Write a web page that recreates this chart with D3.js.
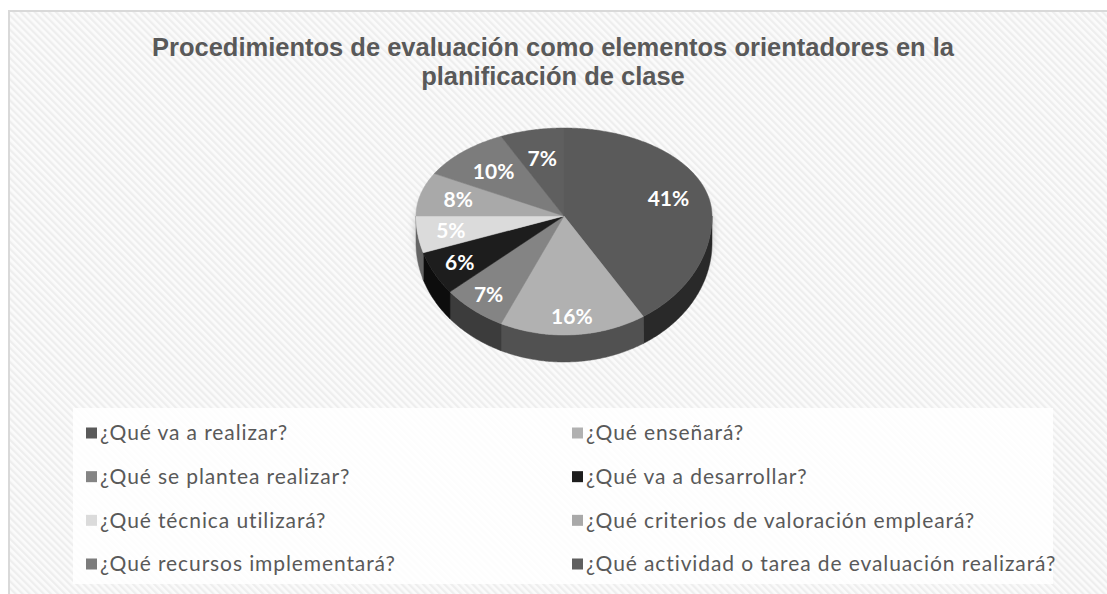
<!DOCTYPE html>
<html>
<head>
<meta charset="utf-8">
<script src="https://cdn.jsdelivr.net/npm/d3@7"></script>
<style>
  html, body { margin: 0; padding: 0; background: #fff; }
</style>
</head>
<body>
<div id="chart"></div>
<script>
var title = ["Procedimientos de evaluación como elementos orientadores en la", "planificación de clase"];
var categories = [
    "¿Qué va a realizar?", "¿Qué enseñará?",
    "¿Qué se plantea realizar?", "¿Qué va a desarrollar?",
    "¿Qué técnica utilizará?", "¿Qué criterios de valoración empleará?",
    "¿Qué recursos implementará?", "¿Qué actividad o tarea de evaluación realizará?"
];
var values = [41, 16, 7, 6, 5, 8, 10, 7];
var colors = ["#5a5a5a", "#b1b1b1", "#848484", "#1d1d1d", "#dbdbdb", "#a9a9a9", "#7c7c7c", "#5f5f5f"];

function init() {
    var w = 1107, h = 594;
    var cx = 564, cy = 216;     // apex of the pie
    var rx = 148, ryBack = 88, ryFront = 119, depth = 27;

    var svg = d3.select("#chart").append("svg")
        .attr("width", w).attr("height", h);

    var defs = svg.append("defs");
    var pat = defs.append("pattern")
        .attr("id", "hatch")
        .attr("width", 5).attr("height", 5)
        .attr("patternUnits", "userSpaceOnUse")
        .attr("patternTransform", "rotate(-45)");
    pat.append("rect").attr("width", 5).attr("height", 5).attr("fill", "#fbfbfb");
    pat.append("rect").attr("width", 2.3).attr("height", 5).attr("fill", "#eeeeee");

    defs.append("filter").attr("id", "blur")
        .attr("x", "-20%").attr("y", "-20%").attr("width", "140%").attr("height", "140%")
        .append("feGaussianBlur").attr("stdDeviation", 4);

    // chart area
    svg.append("rect")
        .attr("x", 9).attr("y", 11)
        .attr("width", w).attr("height", h)
        .attr("fill", "url(#hatch)")
        .attr("stroke", "#d9d9d9").attr("stroke-width", 2);

    // title
    svg.append("g").selectAll("text")
        .data(title)
        .enter().append("text")
        .attr("x", 553)
        .attr("y", (d, i) => 56 + i * 29)
        .attr("text-anchor", "middle")
        .attr("font-family", "Liberation Sans, Arial, sans-serif")
        .attr("font-weight", "bold")
        .attr("font-size", "25.5px")
        .attr("fill", "#595959")
        .text(d => d);

    // pie geometry
    function pt(a, dy) {
        var ry = Math.cos(a) > 0 ? ryBack : ryFront;
        return [cx + rx * Math.sin(a), cy - ry * Math.cos(a) + (dy || 0)];
    }
    function arcPts(a0, a1, dy) {
        var n = Math.max(2, Math.ceil(Math.abs(a1 - a0) / 0.01));
        return d3.range(n + 1).map(k => pt(a0 + (a1 - a0) * k / n, dy));
    }
    var line = d3.line();

    var arcs = d3.pie().sort(null).value(d => d)(values);

    // soft shadow
    svg.append("path")
        .attr("d", line(arcPts(0, 2 * Math.PI, depth / 2)) + "Z")
        .attr("fill", "#9a9a9a")
        .attr("opacity", 0.6)
        .attr("filter", "url(#blur)");

    // side walls (front half only)
    var sides = svg.append("g");
    arcs.forEach(function(d, i) {
        var s = Math.max(d.startAngle, Math.PI / 2);
        var e = Math.min(d.endAngle, 3 * Math.PI / 2);
        if (e <= s) return;
        var pts = arcPts(s, e, 0).concat(arcPts(e, s, depth));
        sides.append("path")
            .attr("d", line(pts) + "Z")
            .attr("fill", d3.color(colors[i]).darker(2.2))
            .attr("stroke", d3.color(colors[i]).darker(2.2))
            .attr("stroke-width", 0.5);
    });

    // top faces
    svg.append("g").selectAll("path")
        .data(arcs)
        .enter().append("path")
        .attr("d", d => line([[cx, cy]].concat(arcPts(d.startAngle, d.endAngle, 0))) + "Z")
        .attr("fill", (d, i) => colors[i])
        .attr("stroke", (d, i) => colors[i])
        .attr("stroke-width", 0.5);

    // data labels
    svg.append("g").selectAll("text")
        .data(arcs)
        .enter().append("text")
        .attr("transform", function(d) {
            var m = (d.startAngle + d.endAngle) / 2;
            var f = 0.76 - 0.09 * Math.cos(m);
            var p = pt(m, 0);
            return "translate(" + (cx + (p[0] - cx) * f) + "," + (cy + (p[1] - cy) * f) + ")";
        })
        .attr("dy", "0.36em")
        .attr("text-anchor", "middle")
        .attr("font-family", "Lato, sans-serif")
        .attr("font-weight", "bold")
        .attr("font-size", "21px")
        .attr("fill", "#fff")
        .text(d => d.data + "%");

    // legend
    svg.append("rect")
        .attr("x", 73).attr("y", 408)
        .attr("width", 980).attr("height", 176)
        .attr("fill", "#fff").attr("opacity", 0.85);

    var col = d3.scalePoint().domain([0, 1]).range([86, 572]);
    var row = d3.scalePoint().domain([0, 1, 2, 3]).range([433, 564]);

    var items = svg.append("g").selectAll("g")
        .data(categories)
        .enter().append("g")
        .attr("transform", (d, i) => "translate(" + col(i % 2) + "," + row(Math.floor(i / 2)) + ")");
    items.append("rect")
        .attr("x", 0).attr("y", -5.5)
        .attr("width", 11).attr("height", 11)
        .attr("fill", (d, i) => colors[i]);
    items.append("text")
        .attr("x", 14)
        .attr("dy", "0.35em")
        .attr("font-family", "Lato, sans-serif")
        .attr("font-size", "21px")
        .attr("letter-spacing", "0.9px")
        .attr("fill", "#595959")
        .text(d => d);
}

window.onload = init;
</script>
</body>
</html>
